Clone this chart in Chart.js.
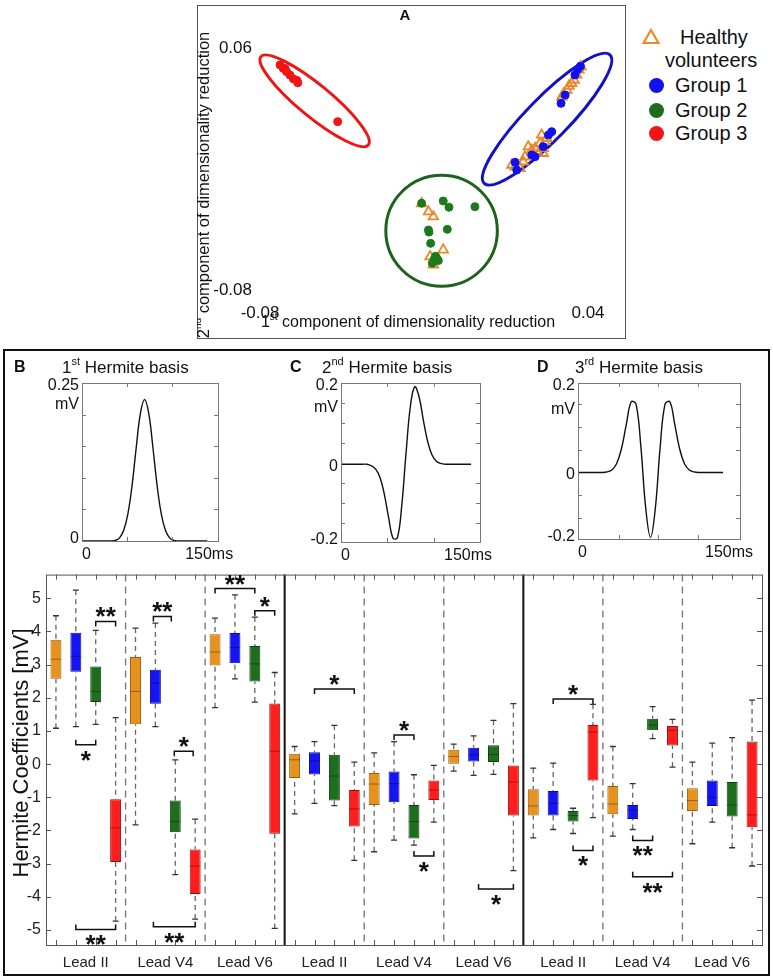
<!DOCTYPE html>
<html>
<head>
<meta charset="utf-8">
<title>Hermite coefficients</title>
<script src="https://cdn.jsdelivr.net/npm/chart.js@4.4.1/dist/chart.umd.min.js"></script>
<style>
  body { margin: 0; background: #fff; font-family: "Liberation Sans", Arial, sans-serif; }
  #page { position: relative; width: 773px; height: 980px; overflow: hidden; }
  canvas, .frame, .lg { position: absolute; }
  .frame { box-sizing: border-box; }
  #frameA { left: 197px; top: 5px; width: 429px; height: 334px; border: 1.5px solid #555; }
  #frameLow { left: 3px; top: 349px; width: 767px; height: 627px; border: 2px solid #111; }
  .lg { font-size: 20px; line-height: 24px; color: #111; white-space: nowrap; }
  .dot { position: absolute; width: 15px; height: 15px; border-radius: 50%; }
</style>
</head>
<body>
<div id="page">
  <div class="frame" id="frameA"></div>
  <div class="frame" id="frameLow"></div>

  <canvas id="scatterA" width="430" height="335" style="left:197px;top:5px"></canvas>

  <svg class="lg" style="left:642px;top:28px" width="18" height="17">
    <polygon points="9,2 16.5,15 1.5,15" fill="none" stroke="#e8892a" stroke-width="2.2"/>
  </svg>
  <div class="lg" style="left:680px;top:25px">Healthy</div>
  <div class="lg" style="left:665px;top:48px">volunteers</div>
  <div class="dot" style="left:649px;top:78px;background:#1010f0"></div>
  <div class="lg" style="left:675px;top:73px">Group 1</div>
  <div class="dot" style="left:649px;top:103px;background:#1c6e1c"></div>
  <div class="lg" style="left:675px;top:98px">Group 2</div>
  <div class="dot" style="left:649px;top:126px;background:#f41414"></div>
  <div class="lg" style="left:675px;top:121px">Group 3</div>

  <canvas id="basisB" width="262" height="210" style="left:0px;top:355px"></canvas>
  <canvas id="basisC" width="245" height="210" style="left:262px;top:355px"></canvas>
  <canvas id="basisD" width="262" height="210" style="left:507px;top:355px"></canvas>

  <canvas id="coefChart" width="773" height="415" style="left:0px;top:560px"></canvas>
</div>

<script>
// ---------- panel A: dimensionality reduction scatter ----------
const healthyX = [0.0297, 0.0303, 0.0315, 0.0323, 0.0333, 0.0342, 0.0351, 0.036, 0.0367,
    0.0242, 0.0223, 0.0235, 0.0217, 0.0229, 0.0199, 0.0229, 0.0174, 0.0162, 0.0156, 0.0144,
    0.0126, 0.0114, 0.0211, 0.0187,
    -0.0216, -0.0191, -0.0173, -0.0137, -0.0185, -0.0173];
const healthyY = [0.0318, 0.0334, 0.0357, 0.038, 0.0396, 0.0415, 0.0444, 0.0473, 0.0492,
    0.0078, 0.0097, 0.0058, 0.0049, 0.002, 0.002, -0.0009, 0.0029, -0.0029, -0.0058, -0.0096,
    -0.0087, -0.0077, -0.0009, 0.001,
    -0.03, -0.0347, -0.0376, -0.0568, -0.0607, -0.0655];
const group1X = [0.0294, 0.0309, 0.0345, 0.0355, 0.0365, 0.026, 0.0248, 0.0187, 0.0126, 0.0132, 0.0199, 0.0229];
const group1Y = [0.028, 0.0328, 0.0444, 0.0475, 0.0495, 0.0116, 0.0097, -0.0019, -0.0061, -0.0106, -0.0029, 0.0029];
const group2X = [-0.0216, -0.0137, -0.0116, -0.0021, -0.0191, -0.0189, -0.0122, -0.0183, -0.017, -0.0161, -0.0177, -0.0155, -0.0165];
const group2Y = [-0.0298, -0.0285, -0.0321, -0.0318, -0.0453, -0.0465, -0.0449, -0.053, -0.0622, -0.0616, -0.0645, -0.063, -0.0605];
const group3X = [-0.0734, -0.0722, -0.0716, -0.071, -0.0698, -0.0685, -0.0669, -0.0672, -0.0523];
const group3Y = [0.0502, 0.0482, 0.0482, 0.0463, 0.0444, 0.0421, 0.0399, 0.0412, 0.0174];

// cluster ellipses, given by the two ends of the long axis (data units)
const group1Ellipse = [0.0013, -0.0183, 0.0473, 0.056];
const group2Ellipse = [-0.0347, -0.0457, 0.0061, -0.0457];
const group3Ellipse = [-0.0804, 0.055, -0.0411, 0.0039];

const scatterXTicks = [-0.08, 0.04];
const scatterYTicks = [0.06, -0.08];

// ---------- panels B-D: Hermite basis functions ----------
const basisTime = [0, 5, 10, 15, 20, 25, 30, 35, 40, 45, 50, 55, 60, 65, 70, 75,
    80, 85, 90, 95, 100, 105, 110, 115, 120, 125, 130, 135, 140, 145, 150];
const basis1 = [0, 0, 0, 0, 0, 0, 0, 0, 0.001, 0.005, 0.017, 0.043, 0.088, 0.148, 0.202, 0.224,
    0.202, 0.148, 0.088, 0.043, 0.017, 0.005, 0.001, 0, 0, 0, 0, 0, 0, 0, 0];
const basis2 = [0, 0, 0, 0, 0, 0, 0, -0.004, -0.013, -0.035, -0.079, -0.141, -0.194, -0.193, -0.11, 0.029,
    0.152, 0.203, 0.177, 0.115, 0.059, 0.024, 0.008, 0.002, 0, 0, 0, 0, 0, 0, 0];
const basis3 = [0, 0, 0, 0, 0, 0, 0.002, 0.008, 0.028, 0.074, 0.149, 0.218, 0.211, 0.08, -0.109, -0.2,
    -0.109, 0.08, 0.211, 0.218, 0.149, 0.074, 0.028, 0.008, 0.002, 0, 0, 0, 0, 0, 0];
const basisNames = ['1', '2', '3'];
const basisSuffix = ['st', 'nd', 'rd'];
const panelLetters = ['B', 'C', 'D'];

// ---------- bottom: Hermite coefficients box plots ----------
// each entry: [lower whisker, Q1, median, Q3, upper whisker] in mV
// order: B Lead II, B V4, B V6, C Lead II, C V4, C V6, D Lead II, D V4, D V6
const leads = ['Lead II', 'Lead V4', 'Lead V6'];
const healthyBox = [[1.08, 2.57, 3.16, 3.75, 4.47], [-1.83, 1.2, 2.19, 3.23, 4.1], [1.7, 2.97, 3.38, 3.91, 4.4],
    [-1.5, -0.42, 0.13, 0.31, 0.53], [-2.64, -1.23, -0.6, -0.27, 0.34], [-0.21, 0.01, 0.23, 0.43, 0.6],
    [-2.22, -1.55, -1.26, -0.76, -0.12], [-2.17, -1.51, -1.2, -0.66, 0.53], [-2.4, -1.41, -1.1, -0.73, 0.06]];
const group1Box = [[1.13, 2.78, 3.25, 3.96, 5.24], [1.13, 1.82, 2.44, 2.84, 4.25], [2.57, 3.04, 3.51, 3.95, 5.1],
    [-1.18, -0.31, 0.1, 0.36, 0.68], [-2.29, -1.15, -0.59, -0.22, 0.68], [-0.34, 0.08, 0.28, 0.49, 0.85],
    [-1.97, -1.55, -1.18, -0.81, 0.03], [-1.97, -1.65, -1.38, -1.23, -0.59], [-1.75, -1.26, -1.0, -0.49, 0.63]];
const group2Box = [[1.2, 1.87, 2.19, 2.94, 4.03], [-3.33, -2.05, -1.73, -1.1, 0.13], [1.87, 2.49, 3.02, 3.56, 4.43],
    [-1.25, -1.1, -0.36, 0.28, 1.17], [-2.44, -2.24, -1.73, -1.23, -0.32], [-0.31, 0.06, 0.29, 0.57, 1.32],
    [-2.09, -1.73, -1.55, -1.41, -1.33], [0.77, 1.02, 1.18, 1.37, 1.73], [-2.52, -1.58, -1.23, -0.54, 0.8]];
const group3Box = [[-4.73, -2.95, -1.92, -1.06, 1.4], [-4.67, -3.91, -3.07, -2.57, -1.66], [-4.95, -2.1, 0.39, 1.83, 2.76],
    [-2.9, -1.88, -1.35, -0.78, 0.06], [-1.75, -1.08, -0.78, -0.49, -0.04], [-3.21, -1.55, -0.54, -0.04, 1.82],
    [-1.61, -0.49, 0.97, 1.18, 1.8], [-0.09, 0.56, 1.02, 1.15, 1.35], [-3.07, -1.9, -1.53, 0.68, 1.93]];
const coefYTicks = [-5, -4, -3, -2, -1, 0, 1, 2, 3, 4, 5];

// significance brackets (positions are box slots 0..35)
const sigFrom = [2, 1, 1, 4.9, 5.95, 4.9, 8, 10, 13, 17, 18, 21.25, 25, 26, 29, 29];
const sigTo = [3, 2, 3, 5.8, 6.9, 7, 10, 11, 15, 18, 19, 23, 27, 27, 30, 31];
const sigY = [4.3, 0.58, -4.98, 4.45, 0.39, -4.9, 5.29, 4.62, 2.26, 0.88, -2.77, -3.76, 1.96, -2.6, -2.3, -3.39];
const sigMark = ['**', '*', '**', '**', '*', '**', '**', '*', '*', '*', '*', '*', '*', '*', '**', '**'];
const sigAbove = [true, false, false, true, true, false, true, true, true, true, false, false, true, false, false, false];

const FONT = '"Liberation Sans", Arial, sans-serif';
const pts = (xs, ys) => xs.map((x, i) => ({ x: x, y: ys[i] }));

// text with a superscript part, parts = [[text, isSup], ...]
function drawSup(ctx, parts, x, y, size, align) {
    const big = size + 'px ' + FONT;
    const small = Math.round(size * 0.62) + 'px ' + FONT;
    let w = 0;
    parts.forEach(p => { ctx.font = p[1] ? small : big; w += ctx.measureText(p[0]).width; });
    let cx = align === 'center' ? x - w / 2 : x;
    ctx.textAlign = 'left';
    ctx.textBaseline = 'middle';
    parts.forEach(p => {
        ctx.font = p[1] ? small : big;
        ctx.fillText(p[0], cx, p[1] ? y - size * 0.36 : y);
        cx += ctx.measureText(p[0]).width;
    });
}

// ---------- panel A ----------
const ellipses = [
    { ends: group1Ellipse, half: 21, color: '#1212c4' },
    { ends: group2Ellipse, half: 55.5, color: '#1d621d' },
    { ends: group3Ellipse, half: 16, color: '#ee1515' },
];

const scatterPlugin = {
    id: 'scatterExtras',
    beforeDatasetsDraw(chart) {
        const { ctx, scales: { x, y } } = chart;
        ctx.save();
        ctx.lineWidth = 3;
        ellipses.forEach(e => {
            const x1 = x.getPixelForValue(e.ends[0]), y1 = y.getPixelForValue(e.ends[1]);
            const x2 = x.getPixelForValue(e.ends[2]), y2 = y.getPixelForValue(e.ends[3]);
            const len = Math.hypot(x2 - x1, y2 - y1) / 2;
            ctx.beginPath();
            ctx.ellipse((x1 + x2) / 2, (y1 + y2) / 2, len, e.half, Math.atan2(y2 - y1, x2 - x1), 0, Math.PI * 2);
            ctx.strokeStyle = e.color;
            ctx.stroke();
        });
        ctx.restore();
    },
    afterDraw(chart) {
        const { ctx, chartArea: a, scales: { x, y } } = chart;
        ctx.save();
        ctx.fillStyle = '#111';
        ctx.font = '17px ' + FONT;
        ctx.textBaseline = 'middle';
        ctx.textAlign = 'right';
        scatterYTicks.forEach(v => ctx.fillText(String(v), a.left - 10, y.getPixelForValue(v)));
        ctx.textAlign = 'center';
        scatterXTicks.forEach(v => ctx.fillText(String(v), x.getPixelForValue(v) - 2, a.bottom + 23));

        drawSup(ctx, [['1', false], ['st', true], [' component of dimensionality reduction', false]],
            211, a.bottom + 33, 16, 'center');
        ctx.translate(7, 180);
        ctx.rotate(-Math.PI / 2);
        drawSup(ctx, [['2', false], ['nd', true], [' component of dimensionality reduction', false]], 0, 0, 16.5, 'center');
        ctx.restore();

        ctx.save();
        ctx.font = 'bold 15px ' + FONT;
        ctx.fillStyle = '#111';
        ctx.textAlign = 'center';
        ctx.textBaseline = 'middle';
        ctx.fillText('A', 208, 11);
        ctx.restore();
    }
};

new Chart(document.getElementById('scatterA'), {
    type: 'scatter',
    data: {
        datasets: [
            { label: 'Group 3', data: pts(group3X, group3Y), backgroundColor: '#f41414', borderColor: '#f41414', pointRadius: 4 },
            { label: 'Group 2', data: pts(group2X, group2Y), backgroundColor: '#1c7a1c', borderColor: '#1c7a1c', pointRadius: 4 },
            { label: 'Group 1', data: pts(group1X, group1Y), backgroundColor: '#1010f0', borderColor: '#1010f0', pointRadius: 4 },
            { label: 'Healthy volunteers', data: pts(healthyX, healthyY), pointStyle: 'triangle', pointRadius: 5.5,
              backgroundColor: 'rgba(0,0,0,0)', borderColor: '#e8892a', borderWidth: 1.8 },
        ]
    },
    options: {
        responsive: false,
        animation: false,
        events: [],
        layout: { padding: { left: 65, right: 37, top: 43, bottom: 50 } },
        plugins: { legend: { display: false }, tooltip: { enabled: false } },
        scales: {
            x: { type: 'linear', display: false, min: -0.08, max: 0.04 },
            y: { type: 'linear', display: false, min: -0.08, max: 0.06 },
        }
    },
    plugins: [scatterPlugin]
});

// ---------- panels B-D ----------
function basisPlugin(o) {
    return {
        id: 'basisExtras',
        afterDraw(chart) {
            const { ctx, chartArea: a, scales: { x, y } } = chart;
            ctx.save();
            // frame and inward ticks
            ctx.strokeStyle = '#777';
            ctx.lineWidth = 1;
            ctx.strokeRect(a.left + 0.5, a.top + 0.5, a.right - a.left, a.bottom - a.top);
            ctx.beginPath();
            o.xMinor.forEach(v => {
                const px = Math.round(x.getPixelForValue(v)) + 0.5;
                ctx.moveTo(px, a.bottom); ctx.lineTo(px, a.bottom - 4);
                ctx.moveTo(px, a.top); ctx.lineTo(px, a.top + 4);
            });
            o.yMinor.forEach(v => {
                const py = Math.round(y.getPixelForValue(v)) + 0.5;
                ctx.moveTo(a.left, py); ctx.lineTo(a.left + 4, py);
                ctx.moveTo(a.right, py); ctx.lineTo(a.right - 4, py);
            });
            ctx.stroke();

            // tick labels
            ctx.fillStyle = '#111';
            ctx.font = '16px ' + FONT;
            ctx.textBaseline = 'middle';
            ctx.textAlign = 'right';
            ctx.fillText(o.yLabels[0], a.left - 3, a.top + 3);
            ctx.fillText('mV', a.left - 3, a.top + o.mvGap);
            if (o.yLabels.length === 3) {
                ctx.fillText(o.yLabels[1], a.left - 3, y.getPixelForValue(0) + 2);
            }
            ctx.fillText(o.yLabels[o.yLabels.length - 1], a.left - 3, a.bottom - 2);
            ctx.textAlign = 'left';
            ctx.fillText('0', x.getPixelForValue(0), a.bottom + 14);
            ctx.textAlign = 'center';
            ctx.fillText('150ms', x.getPixelForValue(150) + o.msShift, a.bottom + 14);

            // panel letter and title
            ctx.font = 'bold 16px ' + FONT;
            ctx.textAlign = 'left';
            ctx.fillText(o.letter, o.letterX, 13);
            drawSup(ctx, [[o.ord, false], [o.suffix, true], [' Hermite basis', false]], o.titleX, 13, 17, 'left');
            ctx.restore();
        }
    };
}

function basisChart(id, values, o) {
    new Chart(document.getElementById(id), {
        type: 'scatter',
        data: {
            datasets: [{
                data: pts(basisTime, values),
                showLine: true,
                borderColor: '#111',
                borderWidth: 1.4,
                pointRadius: 0,
                tension: 0.4,
                clip: false,
            }]
        },
        options: {
            responsive: false,
            animation: false,
            events: [],
            layout: { padding: o.pad },
            plugins: { legend: { display: false }, tooltip: { enabled: false } },
            scales: {
                x: { type: 'linear', display: false, min: 0, max: o.xMax },
                y: { type: 'linear', display: false, min: o.yMin, max: o.yMax },
            }
        },
        plugins: [basisPlugin(o)]
    });
}

basisChart('basisB', basis1, {
    pad: { left: 82, right: 44, top: 28, bottom: 24 }, xMax: 163, yMin: 0, yMax: 0.25,
    xMinor: [54, 108], yMinor: [0.05, 0.1, 0.15, 0.2], yLabels: ['0.25', '0'], mvGap: 22, msShift: 2,
    letter: panelLetters[0], letterX: 14, titleX: 62, ord: basisNames[0], suffix: basisSuffix[0]
});
basisChart('basisC', basis2, {
    pad: { left: 79, right: 27, top: 28, bottom: 23 }, xMax: 160.3, yMin: -0.204, yMax: 0.213,
    xMinor: [53, 107], yMinor: [-0.155, -0.103, -0.05, 0.055, 0.108, 0.16], yLabels: ['0.2', '0', '-0.2'], mvGap: 25, msShift: -3,
    letter: panelLetters[1], letterX: 28, titleX: 60, ord: basisNames[1], suffix: basisSuffix[1]
});
basisChart('basisD', basis3, {
    pad: { left: 71, right: 29, top: 28, bottom: 26 }, xMax: 167.5, yMin: -0.205, yMax: 0.276,
    xMinor: [42, 83, 124], yMinor: [-0.14, -0.07, 0.07, 0.14, 0.21], yLabels: ['0.2', '0', '-0.2'], mvGap: 27, msShift: 6,
    letter: panelLetters[2], letterX: 30, titleX: 68, ord: basisNames[2], suffix: basisSuffix[2]
});

// ---------- coefficient box plots ----------
const boxFill = ['#e8921e', '#1414f5', '#1e6e1e', '#ff1e1e'];
const boxEdge = ['#9a5d0c', '#0a0a90', '#0c3f0c', '#a00c0c'];
const boxSets = [healthyBox, group1Box, group2Box, group3Box];

const slotLabels = [], slotStats = [], slotFill = [], slotEdge = [];
for (let g = 0; g < 9; g++) {
    for (let k = 0; k < 4; k++) {
        slotLabels.push(leads[g % 3] + ' #' + (Math.floor(g / 3) + 1) + '.' + k);
        slotStats.push(boxSets[k][g]);
        slotFill.push(boxFill[k]);
        slotEdge.push(boxEdge[k]);
    }
}

const coefPlugin = {
    id: 'coefExtras',
    beforeDatasetsDraw(chart) {
        const { ctx, chartArea: a, scales: { x, y } } = chart;
        ctx.save();
        // separators between leads and panels
        for (let b = 1; b < 9; b++) {
            const px = (x.getPixelForValue(b * 4 - 1) + x.getPixelForValue(b * 4)) / 2;
            ctx.beginPath();
            if (b % 3 === 0) {
                ctx.setLineDash([]);
                ctx.strokeStyle = '#111';
                ctx.lineWidth = 2;
            } else {
                ctx.setLineDash([7, 5]);
                ctx.strokeStyle = '#7a7a7a';
                ctx.lineWidth = 1.4;
            }
            ctx.moveTo(px, a.top);
            ctx.lineTo(px, a.bottom);
            ctx.stroke();
        }
        // whiskers
        ctx.setLineDash([5, 4]);
        ctx.strokeStyle = '#666';
        ctx.lineWidth = 1.3;
        slotStats.forEach((s, i) => {
            const px = x.getPixelForValue(i);
            ctx.beginPath();
            ctx.moveTo(px, y.getPixelForValue(s[0]));
            ctx.lineTo(px, y.getPixelForValue(s[1]));
            ctx.moveTo(px, y.getPixelForValue(s[4]));
            ctx.lineTo(px, y.getPixelForValue(s[3]));
            ctx.stroke();
        });
        // caps
        ctx.setLineDash([]);
        ctx.strokeStyle = '#333';
        ctx.beginPath();
        slotStats.forEach((s, i) => {
            const px = x.getPixelForValue(i);
            [s[0], s[4]].forEach(v => {
                const py = y.getPixelForValue(v);
                ctx.moveTo(px - 3, py);
                ctx.lineTo(px + 3, py);
            });
        });
        ctx.stroke();
        ctx.restore();
    },
    afterDatasetsDraw(chart) {
        const { ctx, chartArea: a, scales: { x, y } } = chart;
        const bars = chart.getDatasetMeta(0).data;
        ctx.save();
        // medians
        ctx.strokeStyle = 'rgba(0,0,0,0.35)';
        ctx.lineWidth = 1;
        ctx.beginPath();
        slotStats.forEach((s, i) => {
            const py = y.getPixelForValue(s[2]);
            ctx.moveTo(bars[i].x - bars[i].width / 2, py);
            ctx.lineTo(bars[i].x + bars[i].width / 2, py);
        });
        ctx.stroke();

        // frame and inward ticks
        ctx.strokeStyle = '#555';
        ctx.strokeRect(a.left + 0.5, a.top + 0.5, a.right - a.left, a.bottom - a.top);
        ctx.beginPath();
        slotStats.forEach((s, i) => {
            const px = Math.round(x.getPixelForValue(i)) + 0.5;
            ctx.moveTo(px, a.bottom); ctx.lineTo(px, a.bottom - 5);
            ctx.moveTo(px, a.top); ctx.lineTo(px, a.top + 5);
        });
        coefYTicks.forEach(v => {
            const py = Math.round(y.getPixelForValue(v)) + 0.5;
            ctx.moveTo(a.left, py); ctx.lineTo(a.left + 5, py);
            ctx.moveTo(a.right, py); ctx.lineTo(a.right - 5, py);
        });
        ctx.stroke();

        // lead labels
        ctx.fillStyle = '#222';
        ctx.font = '15px ' + FONT;
        ctx.textAlign = 'center';
        ctx.textBaseline = 'middle';
        for (let g = 0; g < 9; g++) {
            const cx = (x.getPixelForValue(g * 4 + 1) + x.getPixelForValue(g * 4 + 2)) / 2;
            ctx.fillText(leads[g % 3], cx, a.bottom + 18);
        }

        // significance brackets
        ctx.strokeStyle = '#111';
        ctx.lineWidth = 1.5;
        ctx.fillStyle = '#111';
        ctx.font = 'bold 26px ' + FONT;
        ctx.textBaseline = 'alphabetic';
        sigFrom.forEach((f, i) => {
            const x1 = x.getPixelForValue(f), x2 = x.getPixelForValue(sigTo[i]);
            const py = y.getPixelForValue(sigY[i]);
            const d = sigAbove[i] ? 5 : -5;
            ctx.beginPath();
            ctx.moveTo(x1, py + d);
            ctx.lineTo(x1, py);
            ctx.lineTo(x2, py);
            ctx.lineTo(x2, py + d);
            ctx.stroke();
            const m = ctx.measureText(sigMark[i]);
            const cy = sigAbove[i] ? py - 9 : py + 11;
            ctx.fillText(sigMark[i], (x1 + x2) / 2, cy + (m.actualBoundingBoxAscent - m.actualBoundingBoxDescent) / 2);
        });

        // y title
        ctx.translate(22, 193);
        ctx.rotate(-Math.PI / 2);
        ctx.font = '22px ' + FONT;
        ctx.fillStyle = '#111';
        ctx.textBaseline = 'middle';
        ctx.fillText('Hermite Coefficients [mV]', 0, 0);
        ctx.restore();
    }
};

new Chart(document.getElementById('coefChart'), {
    type: 'bar',
    data: {
        labels: slotLabels,
        datasets: [{
            data: slotStats.map(s => [s[1], s[3]]),
            backgroundColor: slotFill,
            borderColor: slotEdge,
            borderWidth: 1,
            borderSkipped: false,
            barPercentage: 0.55,
            categoryPercentage: 1,
        }]
    },
    options: {
        responsive: false,
        animation: false,
        events: [],
        layout: { padding: { left: 0, right: 11, top: 10, bottom: 30 } },
        plugins: { legend: { display: false }, tooltip: { enabled: false } },
        scales: {
            x: { display: false },
            y: {
                min: -5.45,
                max: 5.71,
                afterBuildTicks: s => { s.ticks = coefYTicks.map(v => ({ value: v })); },
                afterFit: s => { s.width = 46; },
                grid: { display: false, drawTicks: false },
                border: { display: false },
                ticks: { font: { size: 16, family: FONT }, color: '#222', padding: 5 },
            }
        }
    },
    plugins: [coefPlugin]
});
</script>
</body>
</html>
